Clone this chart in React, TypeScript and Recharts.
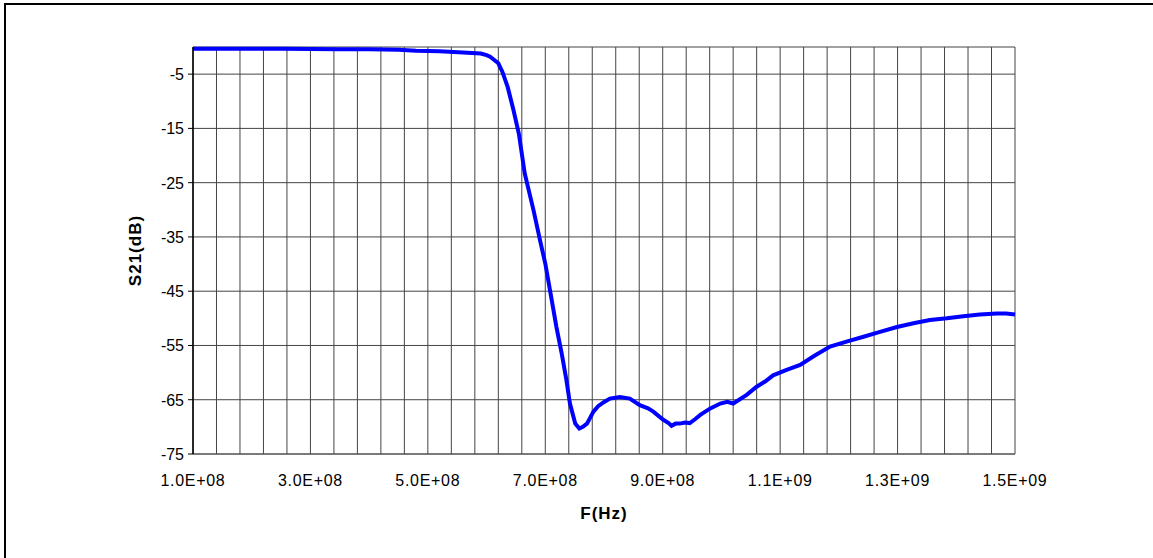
// S21 insertion loss of a low-pass filter, swept 100 MHz to 1.5 GHz
import { LineChart, Line, XAxis, YAxis, CartesianGrid } from 'recharts'

const FREQ_HZ = [
  1.0e8, 1.5e8, 2.0e8, 2.5e8, 3.0e8, 3.5e8, 4.0e8, 4.5e8, 4.8e8, 5.2e8,
  5.6e8, 5.9e8, 6.0e8, 6.06e8, 6.2e8, 6.27e8, 6.36e8, 6.46e8, 6.55e8, 6.65e8,
  6.8e8, 6.91e8, 7.0e8, 7.08e8, 7.19e8, 7.28e8, 7.36e8, 7.42e8, 7.51e8, 7.58e8,
  7.64e8, 7.71e8, 7.82e8, 7.9e8, 7.99e8, 8.1e8, 8.27e8, 8.44e8, 8.61e8, 8.75e8,
  8.84e8, 9.01e8, 9.1e8, 9.15e8, 9.22e8, 9.29e8, 9.38e8, 9.46e8, 9.55e8, 9.64e8,
  9.81e8, 9.98e8, 1.01e9, 1.02e9, 1.043e9, 1.06e9, 1.075e9, 1.088e9, 1.111e9, 1.134e9,
  1.157e9, 1.185e9, 1.213e9, 1.242e9, 1.27e9, 1.299e9, 1.327e9, 1.355e9, 1.384e9, 1.412e9,
  1.44e9, 1.469e9, 1.485e9, 1.5e9,
]

const S21_DB = [
  -0.3, -0.3, -0.3, -0.3, -0.35, -0.4, -0.4, -0.5, -0.7, -0.8,
  -1.0, -1.2, -1.5, -1.8, -3.0, -4.6, -7.4, -11.7, -16.0, -23.3,
  -30.1, -35.6, -39.9, -44.8, -51.6, -56.5, -61.4, -65.7, -69.4, -70.3,
  -70.0, -69.4, -67.2, -66.2, -65.5, -64.8, -64.5, -64.8, -66.0, -66.6,
  -67.2, -68.7, -69.3, -69.8, -69.4, -69.4, -69.2, -69.3, -68.6, -67.8,
  -66.6, -65.7, -65.4, -65.7, -64.1, -62.6, -61.6, -60.5, -59.5, -58.6,
  -57.0, -55.2, -54.3, -53.4, -52.5, -51.6, -50.9, -50.3, -50.0, -49.6,
  -49.3, -49.1, -49.1, -49.3,
]

const X_LABELS = ['1.0E+08', '3.0E+08', '5.0E+08', '7.0E+08', '9.0E+08', '1.1E+09', '1.3E+09', '1.5E+09']
const X_GRID_TICKS = Array.from({ length: 36 }, (_, i) => 1e8 + i * 4e7)
const Y_TICKS = [-75, -65, -55, -45, -35, -25, -15, -5, 0]

const FONT = '"Liberation Sans", Arial, sans-serif'

const data = FREQ_HZ.map((f, i) => ({ f, s21: S21_DB[i] }))

function XTick({ x, y, index }: any) {
  if (index % 5 !== 0) return null
  return (
    <text x={x} y={y + 32} textAnchor="middle" fontSize={16} letterSpacing={0.7} fill="#000" fontFamily={FONT}>
      {X_LABELS[index / 5]}
    </text>
  )
}

function YTick({ x, y, payload }: any) {
  if (payload.value === 0) return null
  return (
    <g>
      <line x1={x - 5} x2={x} y1={y} y2={y} stroke="#000" />
      <text x={x - 9} y={y + 6} textAnchor="end" fontSize={16} fill="#000" fontFamily={FONT}>
        {payload.value}
      </text>
    </g>
  )
}

export default function App() {
  return (
    <div style={{ position: 'absolute', left: 0, top: 0, width: 1153, height: 558, background: '#fff' }}>
      {/* chart frame, only top and left edges are visible */}
      <div style={{ position: 'absolute', left: 4, top: 3, right: 0, bottom: 0, borderLeft: '2px solid #000', borderTop: '2px solid #000' }} />
      <LineChart
        width={1153}
        height={558}
        data={data}
        margin={{ top: 47, right: 138, bottom: 0, left: 0 }}
        style={{ position: 'absolute', left: 0, top: 0 }}
      >
        <CartesianGrid stroke="#444" strokeWidth={1} />
        <XAxis
          dataKey="f"
          type="number"
          domain={[1e8, 1.5e9]}
          ticks={X_GRID_TICKS}
          interval={0}
          height={104}
          tickSize={0}
          tickMargin={0}
          tickLine={false}
          axisLine={{ stroke: '#555' }}
          tick={<XTick />}
          label={{
            content: ({ viewBox }: any) => (
              <text
                x={viewBox.x + viewBox.width / 2}
                y={viewBox.y + 65}
                textAnchor="middle"
                fontSize={17}
                fontWeight="bold"
                letterSpacing={1}
                fontFamily={FONT}
                fill="#000"
              >
                F(Hz)
              </text>
            ),
          }}
        />
        <YAxis
          type="number"
          domain={[-75, 0]}
          ticks={Y_TICKS}
          interval={0}
          width={193}
          tickSize={0}
          tickMargin={0}
          tickLine={false}
          axisLine={{ stroke: '#000', strokeWidth: 1.5 }}
          tick={<YTick />}
          label={{
            content: ({ viewBox }: any) => {
              const cx = 135
              const cy = viewBox.y + viewBox.height / 2
              return (
                <text
                  x={cx}
                  y={cy}
                  transform={`rotate(-90, ${cx}, ${cy})`}
                  textAnchor="middle"
                  dominantBaseline="central"
                  fontSize={17}
                  fontWeight="bold"
                  letterSpacing={1}
                  fontFamily={FONT}
                  fill="#000"
                >
                  S21(dB)
                </text>
              )
            },
          }}
        />
        <Line
          type="linear"
          dataKey="s21"
          stroke="#0000ff"
          strokeWidth={4}
          dot={false}
          isAnimationActive={false}
        />
      </LineChart>
    </div>
  )
}
